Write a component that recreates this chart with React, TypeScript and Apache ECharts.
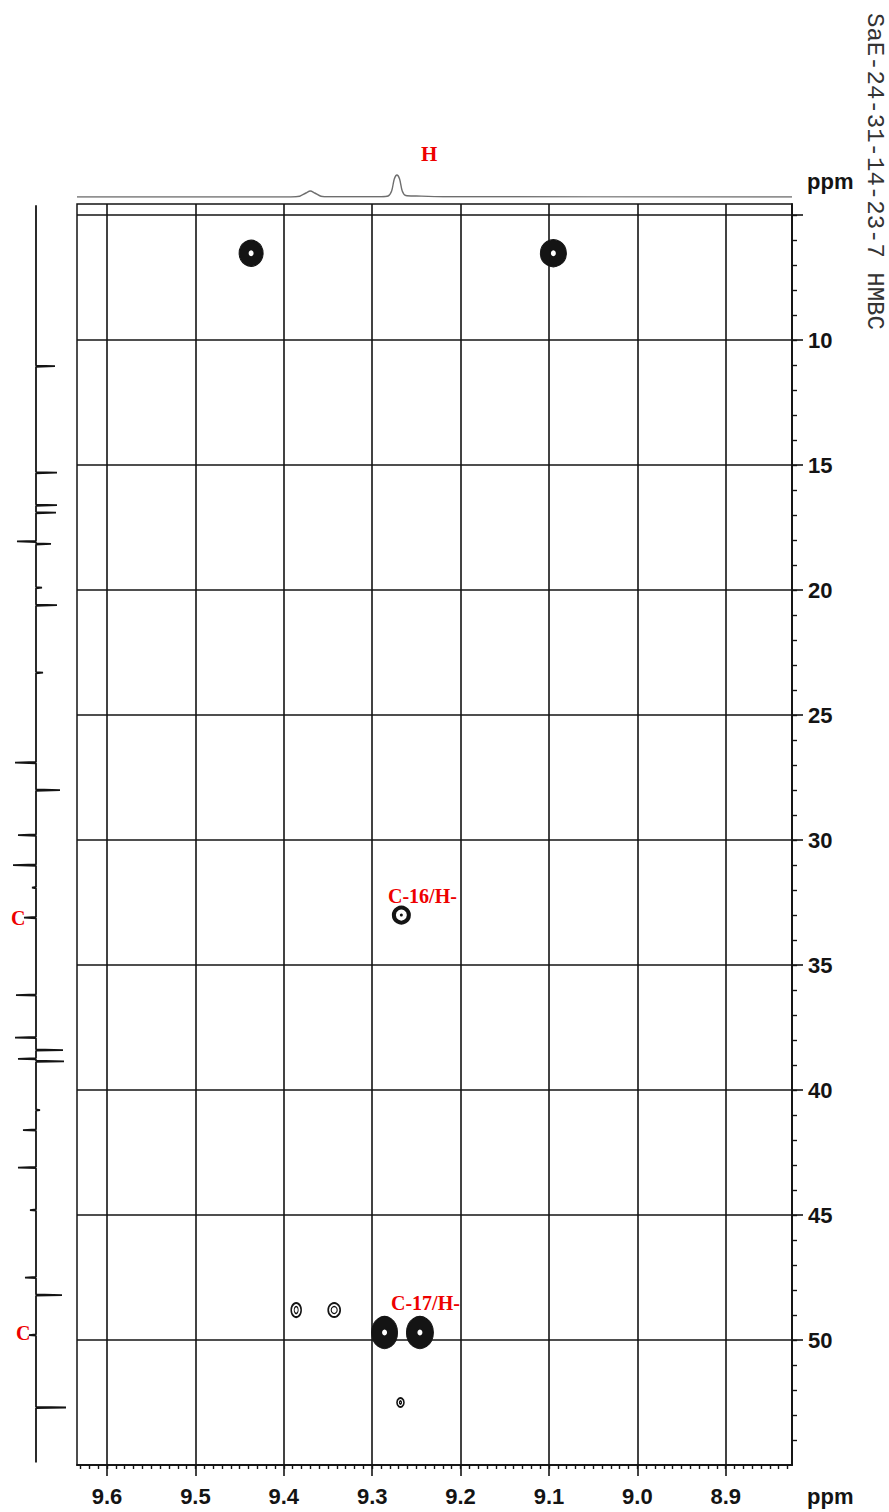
import React, { useEffect, useRef } from "react";
import * as echarts from "echarts";

// ---------- axis ticks ----------
const X_TICKS = [9.6, 9.5, 9.4, 9.3, 9.2, 9.1, 9.0, 8.9];
const X_TICK_LABELS = ["9.6", "9.5", "9.4", "9.3", "9.2", "9.1", "9.0", "8.9"];
const Y_TICKS = [5, 10, 15, 20, 25, 30, 35, 40, 45, 50];
const Y_LABEL_VALUES = [10, 15, 20, 25, 30, 35, 40, 45, 50];
const Y_TICK_LABELS = ["10", "15", "20", "25", "30", "35", "40", "45", "50"];

// ---------- HMBC cross peaks (1H ppm, 13C ppm) ----------
const CROSS_H = [9.437, 9.095, 9.267, 9.386, 9.343, 9.286, 9.246, 9.268];
const CROSS_C = [6.52, 6.52, 33.0, 48.8, 48.8, 49.7, 49.7, 52.5];

// ---------- 1H projection trace ----------
const H1_PPM = [9.634, 9.392, 9.382, 9.375, 9.37, 9.365, 9.358, 9.348, 9.29, 9.282, 9.278, 9.275, 9.272, 9.269, 9.266, 9.262, 9.25, 9.22, 8.825];
const H1_INT = [0, 0, 0.8, 4, 6, 4, 0.8, 0.2, 0.3, 1, 6, 18, 22, 18, 6, 1.5, 1, 0.3, 0];

// ---------- 13C projection peaks (ppm, signed intensity) ----------
const C13_PPM = [11.04, 15.3, 16.6, 16.9, 18.05, 18.15, 19.9, 20.6, 23.3, 26.9, 28.0, 29.8, 31.0, 31.9, 33.1, 36.2, 37.9, 38.4, 38.75, 38.85, 40.8, 41.6, 43.1, 44.8, 47.5, 48.2, 49.8, 52.7];
const C13_INT = [19, 21, 21, 20, -19, 15, 6, 21, 7, -21, 24, -18, -23, -4, -12, -20, -21, 27, -18, 28, 4, -13, -18, -6, -11, 26, -7, 30];

// ---------- styles (not data) ----------
const CROSS_SIZE = [[24, 26], [26, 27], [15, 15], [10, 14], [12, 14], [26, 32], [27, 32], [7, 9]];
const CROSS_KIND = ["fill", "fill", "ring", "outline", "outline", "fill", "fill", "outline"];

const X_MIN = 8.825;
const X_MAX = 9.634;
const Y_MIN = 4.55;
const Y_MAX = 55;
const INK = "#141414";
const RED = "#ee0000";

function xLabel(v: number) {
  const i = X_TICKS.findIndex((t) => Math.abs(t - v) < 1e-6);
  return i >= 0 ? X_TICK_LABELS[i] : "";
}
function yLabel(v: number) {
  const i = Y_LABEL_VALUES.findIndex((t) => Math.abs(t - v) < 1e-6);
  return i >= 0 ? Y_TICK_LABELS[i] : "";
}

export default function App() {
  const ref = useRef<HTMLDivElement>(null);

  useEffect(() => {
    if (!ref.current) return;
    const chart = echarts.init(ref.current, null, { renderer: "svg" });

    const xMinor: number[] = [];
    for (let i = 883; i <= 963; i++) xMinor.push(i / 100);
    const yMinor: number[] = [];
    for (let i = 5; i <= 54; i++) yMinor.push(i);

    const crossData = CROSS_H.map((h, i) => {
      const kind = CROSS_KIND[i];
      return {
        value: [h, CROSS_C[i]],
        symbolSize: CROSS_SIZE[i],
        itemStyle:
          kind === "fill"
            ? { color: INK, borderColor: INK, borderWidth: 1, opacity: 1 }
            : kind === "ring"
            ? { color: "#ffffff", borderColor: INK, borderWidth: 4, opacity: 1 }
            : { color: "#ffffff", borderColor: INK, borderWidth: 1.8, opacity: 1 },
      };
    });
    const coreData = CROSS_H.map((h, i) => {
      const kind = CROSS_KIND[i];
      const [w, ht] = CROSS_SIZE[i];
      if (kind === "fill")
        return { value: [h, CROSS_C[i]], symbolSize: [5, 6], itemStyle: { color: "#ffffff", borderWidth: 0, opacity: 1 } };
      if (kind === "ring")
        return { value: [h, CROSS_C[i]], symbolSize: [3, 3], itemStyle: { color: INK, borderWidth: 0, opacity: 1 } };
      return {
        value: [h, CROSS_C[i]],
        symbolSize: [Math.max(2, w - 6), Math.max(3, ht - 7)],
        itemStyle: { color: "transparent", borderColor: INK, borderWidth: 1.2, opacity: 1 },
      };
    });

    const hTrace = H1_PPM.map((p, i) => [p, H1_INT[i]]);

    const cTrace: number[][] = [[0, Y_MIN + 0.05]];
    C13_PPM.forEach((p, i) => {
      cTrace.push([0, p - 0.025]);
      cTrace.push([C13_INT[i], p]);
      cTrace.push([0, p + 0.025]);
    });
    cTrace.push([0, 54.9]);

    const axisText = {
      fontFamily: "Liberation Sans",
      fontWeight: "bold" as const,
      fontSize: 22,
      color: INK,
    };

    const redText = (text: string, x: number, y: number, size = 20) => ({
      type: "text",
      x,
      y,
      style: {
        text,
        fill: RED,
        font: `bold ${size}px "Liberation Serif"`,
        align: "left",
        verticalAlign: "middle",
      },
    });

    chart.setOption({
      animation: false,
      backgroundColor: "#ffffff",
      grid: [
        { left: 77, right: 97, top: 204, bottom: 47, show: true, borderColor: INK, borderWidth: 1.5, backgroundColor: "transparent" },
        { left: 77, right: 97, top: 172, height: 25 },
        { left: 12, width: 55, top: 204, bottom: 47 },
      ],
      xAxis: [
        {
          gridIndex: 0,
          type: "value",
          inverse: true,
          min: X_MIN,
          max: X_MAX,
          position: "bottom",
          axisLine: { show: true, lineStyle: { color: INK, width: 1.5 } },
          axisTick: { show: true, customValues: X_TICKS, length: 11, lineStyle: { color: INK, width: 1.6 } },
          axisLabel: { show: true, customValues: X_TICKS, formatter: (v: number) => xLabel(v), margin: 20, ...axisText },
          splitLine: { show: false },
        },
        {
          gridIndex: 0,
          type: "value",
          inverse: true,
          min: X_MIN,
          max: X_MAX,
          position: "bottom",
          axisLine: { show: true, lineStyle: { color: INK, width: 1.5 } },
          axisTick: { show: true, customValues: xMinor, length: 4, lineStyle: { color: INK, width: 1.4 } },
          axisLabel: { show: false },
          splitLine: { show: false },
        },
        { gridIndex: 1, type: "value", inverse: true, min: X_MIN, max: X_MAX, show: false },
        { gridIndex: 2, type: "value", min: -24, max: 31, show: false },
      ],
      yAxis: [
        {
          gridIndex: 0,
          type: "value",
          inverse: true,
          min: Y_MIN,
          max: Y_MAX,
          position: "right",
          axisLine: { show: true, lineStyle: { color: INK, width: 1.5 } },
          axisTick: { show: true, customValues: Y_TICKS, length: 11, lineStyle: { color: INK, width: 1.6 } },
          axisLabel: { show: true, customValues: Y_LABEL_VALUES, formatter: (v: number) => yLabel(v), margin: 16, ...axisText },
          splitLine: { show: false },
        },
        {
          gridIndex: 0,
          type: "value",
          inverse: true,
          min: Y_MIN,
          max: Y_MAX,
          position: "right",
          axisLine: { show: true, lineStyle: { color: INK, width: 1.5 } },
          axisTick: { show: true, customValues: yMinor, length: 5, lineStyle: { color: INK, width: 1.4 } },
          axisLabel: { show: false },
          splitLine: { show: false },
        },
        { gridIndex: 1, type: "value", min: 0, max: 25, show: false },
        { gridIndex: 2, type: "value", inverse: true, min: Y_MIN, max: Y_MAX, show: false },
      ],
      series: [
        {
          name: "grid lines",
          type: "line",
          xAxisIndex: 0,
          yAxisIndex: 0,
          data: [],
          z: 1,
          markLine: {
            silent: true,
            symbol: ["none", "none"],
            label: { show: false },
            lineStyle: { color: INK, width: 1.6, type: "solid", opacity: 1 },
            data: [
              ...X_TICKS.map((v) => ({ xAxis: v })),
              ...Y_TICKS.map((v) => ({ yAxis: v })),
            ],
          },
        },
        {
          name: "cross peaks",
          type: "scatter",
          xAxisIndex: 0,
          yAxisIndex: 0,
          symbol: "circle",
          z: 3,
          itemStyle: { opacity: 1 },
          emphasis: { disabled: true },
          data: crossData,
        },
        {
          name: "cores",
          type: "scatter",
          xAxisIndex: 0,
          yAxisIndex: 0,
          symbol: "circle",
          z: 4,
          itemStyle: { opacity: 1 },
          emphasis: { disabled: true },
          data: coreData,
        },
        {
          name: "1H",
          type: "line",
          xAxisIndex: 2,
          yAxisIndex: 2,
          data: hTrace,
          showSymbol: false,
          smooth: 0.3,
          lineStyle: { color: "#6e6e6e", width: 1.4 },
        },
        {
          name: "13C",
          type: "line",
          xAxisIndex: 3,
          yAxisIndex: 3,
          data: cTrace,
          showSymbol: false,
          lineStyle: { color: INK, width: 1.8 },
        },
      ],
      graphic: [
        redText("H", 421, 154, 21),
        redText("C-16/H-", 388, 896, 20),
        redText("C-17/H-", 391, 1303, 20),
        redText("C", 11, 918, 20),
        redText("C", 16, 1333, 20),
        {
          type: "text",
          x: 807,
          y: 181,
          style: { text: "ppm", fill: INK, font: 'bold 22px "Liberation Sans"', align: "left", verticalAlign: "middle" },
        },
        {
          type: "text",
          x: 807,
          y: 1496,
          style: { text: "ppm", fill: INK, font: 'bold 22px "Liberation Sans"', align: "left", verticalAlign: "middle" },
        },
        {
          type: "text",
          x: 874,
          y: 13,
          rotation: -Math.PI / 2,
          style: {
            text: "SaE-24-31-14-23-7 HMBC",
            fill: "#333333",
            font: '24px "Liberation Mono"',
            align: "left",
            verticalAlign: "middle",
          },
        },
      ],
    });

    return () => chart.dispose();
  }, []);

  return (
    <div
      ref={ref}
      style={{ position: "fixed", left: 0, top: 0, width: 889, height: 1512, background: "#fff" }}
    />
  );
}
